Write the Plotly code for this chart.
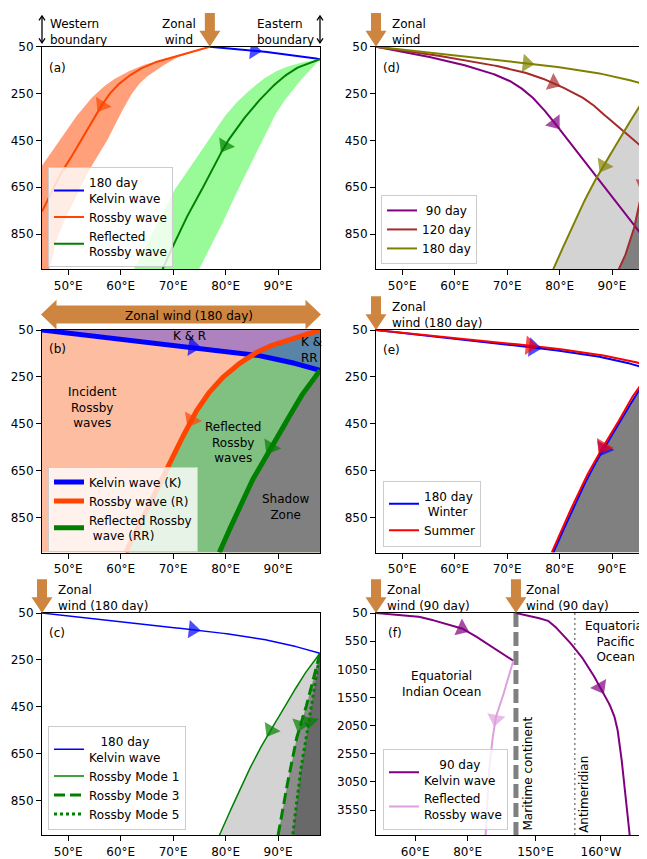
import numpy as np
import plotly.graph_objects as go

FONT = "DejaVu Sans"
W, H = 647, 859          # browser window
OFF = 8                  # page body margin
WF, HF = W - OFF, H - OFF  # figure size so that it ends exactly at the window edge

# ---------------- data ----------------
LON_TICKS = [50, 60, 70, 80, 90]
LON_TICK_LABELS = ["50°E", "60°E", "70°E", "80°E", "90°E"]
T_TICKS = [50, 250, 450, 650, 850]
T_TICKS_F = [50, 550, 1050, 1550, 2050, 2550, 3050, 3550]

# panel (a)
WIND_LON_A = 77
KELVIN_A_LON = [77, 82, 87, 92, 98]
KELVIN_A_T = [50, 59, 70, 84, 103]
ROSSBY_A_LON = [77, 71.3, 66.2, 62.4, 59.2, 56.7, 54.2, 51.6, 49.1, 47.8, 45.0]
ROSSBY_A_T = [50, 85, 120, 163, 219, 289, 388, 486, 571, 627, 754]
ROSSBY_A_LO_LON = [77, 70.0, 63.7, 58.6, 54.8, 51.6, 48.4, 45.9, 44.0]
ROSSBY_A_LO_T = [50, 92, 134, 191, 261, 346, 444, 528, 590]
ROSSBY_A_HI_LON = [77, 71.3, 66.9, 63.7, 61.1, 58.6, 56.1, 53.5, 48.4, 46.5, 45.8]
ROSSBY_A_HI_T = [50, 91, 148, 205, 289, 402, 501, 599, 838, 993, 1030]
RR_A_LON = [98, 94.2, 90.4, 86.6, 83.4, 79.9, 77.0, 73.8, 70.7, 68.0]
RR_A_T = [103, 134, 191, 275, 360, 472, 599, 726, 866, 1000]
RR_A_LO_LON = [98, 92.9, 88.5, 84.0, 80.2, 76.4, 72.6, 69.4, 62.4]
RR_A_LO_T = [103, 127, 169, 247, 337, 458, 585, 697, 1005]
RR_A_HI_LON = [98, 96.1, 92.9, 89.7, 86.6, 83.4, 80.2, 77.0, 74.5]
RR_A_HI_T = [103, 148, 232, 332, 472, 612, 767, 908, 1020]

# 180-day Kelvin wave and its reflected Rossby wave (panels b, c, d, e)
K180_LON = [45, 55, 65, 75, 85, 91, 95, 98]
K180_T = [50, 76, 101, 124, 154, 180, 203, 222]
RR180_LON = [98, 96.6, 94.2, 91.6, 88.6, 85.6, 82.4, 78.8]
RR180_T = [222, 262, 340, 440, 550, 670, 820, 1000]
# panel (b) Rossby wave
R_B_LON = [98, 92.9, 88.5, 85.3, 82.1, 79.8, 77.3, 75.3, 73.5, 70.6, 67.5, 64.3, 61.0]
R_B_T = [50, 89, 118, 153, 202, 245, 305, 365, 434, 561, 703, 842, 1000]
# panel (c) higher Rossby modes
MODE3_LON = [98, 97.0, 95.5, 93.9, 92.3, 91.0, 90.0]
MODE3_T = [222, 312, 439, 552, 721, 874, 1000]
MODE5_LON = [98, 97.0, 96.1, 94.8, 93.9, 92.8]
MODE5_T = [222, 367, 494, 652, 793, 1000]
# panel (d)
K90_LON = [45, 50, 55, 60, 64.8, 68, 71.2, 74.5, 77.5, 80.7, 83.9, 90.2, 96.6, 98]
K90_T = [50, 70, 93, 118, 148, 172, 205, 260, 332, 422, 515, 697, 881, 921]
K120_LON = [45, 50, 55, 60, 64.8, 71.2, 75, 78.8, 83.9, 87, 90.2, 96.6, 98]
K120_T = [50, 65, 82, 100, 118, 148, 172, 205, 261, 310, 374, 493, 522]
RR120_LON = [98, 97.0, 96.0, 94.7, 92.8, 91.3]
RR120_T = [522, 581, 641, 782, 923, 1000]
# panel (e) summer
KSUM_LON = [45, 55, 65, 75, 85, 91, 95, 98]
KSUM_T = [50, 74, 97, 118, 146, 170, 190, 208]
RRSUM_LON = [98, 96.4, 93.9, 91.3, 88.3, 85.3, 82.1, 78.5]
RRSUM_T = [208, 255, 335, 437, 548, 668, 818, 1000]
# panel (f): Indian Ocean part in degrees, Pacific part compressed
MC_X = 98.5
PAC_LON0 = 135
PAC_SCALE = 0.5
ANTIMERIDIAN_LON = 180
F_TICK_IND = [60, 80]
F_TICK_PAC = [150, 200]
F_TICK_LABELS = ["60°E", "80°E", "150°E", "160°W"]
KF_IND_X = [45, 52, 61.8, 70, 77.8, 87.3, 97.5]
KF_IND_T = [50, 73, 120, 220, 325, 588, 897]
RRF_IND_X = [97.5, 95, 92.4, 90.6, 88.6, 87.7, 86.9]
RRF_IND_T = [897, 1318, 1669, 1960, 2664, 3300, 4000]
KF_PAC_LON = [135, 145, 155, 160, 168.8, 184, 196.8, 209.6, 214.6, 218.4, 222]
KF_PAC_T = [50, 108, 155, 196, 383, 792, 1260, 1845, 2430, 3248, 4000]

# ---------------- layout geometry (window pixels) ----------------
BOX = {  # left, right, top, bottom
    'a': (42, 320, 40, 264.3), 'b': (42, 320, 325.7, 550), 'c': (42, 320, 611, 835.3),
    'd': (376, 647, 40, 264.3), 'e': (376, 647, 325.7, 550), 'f': (376, 647, 611, 835.3)}
XR = {'a': [45, 98], 'b': [45, 98], 'c': [45, 98], 'd': [45, 96.67], 'e': [45, 96.67], 'f': [45, 148.6]}
YMAX = {'a': 1000, 'b': 1000, 'c': 1000, 'd': 1000, 'e': 1000, 'f': 4000}
IDX = {'a': 1, 'b': 2, 'c': 3, 'd': 4, 'e': 5, 'f': 6}
LEG = {p: ('legend' if n == 1 else f'legend{n}') for p, n in IDX.items()}
AX = {p: (('x', 'y') if n == 1 else (f'x{n}', f'y{n}')) for p, n in IDX.items()}


def PX(px):
    return (px - OFF) / WF


def PY(py):
    return 1 - (py - OFF) / HF


def pac(lons):
    return [MC_X + (l - PAC_LON0) * PAC_SCALE for l in lons]


def dx(p, x):
    l, r = BOX[p][0], BOX[p][1]
    return l + (x - XR[p][0]) / (XR[p][1] - XR[p][0]) * (r - l)


def cr(xs, ys, n=16):
    P = np.column_stack([xs, ys]).astype(float)
    P = np.vstack([2 * P[0] - P[1], P, 2 * P[-1] - P[-2]])
    t = np.linspace(0, 1, n, endpoint=False)[:, None]
    segs = []
    for i in range(1, len(P) - 2):
        p0, p1, p2, p3 = P[i - 1], P[i], P[i + 1], P[i + 2]
        segs.append(0.5 * ((2 * p1) + (-p0 + p2) * t + (2 * p0 - 5 * p1 + 4 * p2 - p3) * t ** 2
                           + (-p0 + 3 * p1 - 3 * p2 + p3) * t ** 3))
    segs.append(P[-2][None, :])
    A = np.vstack(segs)
    return A[:, 0].tolist(), A[:, 1].tolist()


traces = []
ARW = 16


def add_line(p, xs, ys, color, width, name=None, dash=None, smooth=True):
    xa, ya = AX[p]
    if smooth:
        xs, ys = cr(xs, ys)
    traces.append(go.Scatter(x=xs, y=ys, mode='lines', line=dict(color=color, width=width, dash=dash),
                             xaxis=xa, yaxis=ya, name=name or '', showlegend=name is not None,
                             legend=LEG[p], hoverinfo='skip'))
    return xs, ys


def add_fill(p, xs, ys, color):
    xa, ya = AX[p]
    traces.append(go.Scatter(x=xs, y=ys, mode='lines', fill='toself', fillcolor=color,
                             line=dict(width=0, color=color), xaxis=xa, yaxis=ya,
                             showlegend=False, hoverinfo='skip'))


def add_arrow(p, xd, yd, key, val, color, size=ARW):
    xa, ya = AX[p]
    arr = np.array(xd if key == 'x' else yd)
    i = max(int(np.argmin(np.abs(arr - val))), 1)
    traces.append(go.Scatter(x=[xd[i - 1], xd[i]], y=[yd[i - 1], yd[i]], mode='markers',
                             marker=dict(symbol='triangle-up', size=[0, size], color=color,
                                         angleref='previous', line=dict(width=0)),
                             xaxis=xa, yaxis=ya, showlegend=False, hoverinfo='skip'))


def region_right(p, xd, yd):
    xmax, ymax = XR['a'][1], YMAX[p]
    return list(xd) + [xmax, xmax], list(yd) + [ymax, yd[0]]


# ---------- panel (a) ----------
hx, hy = cr(ROSSBY_A_HI_LON, ROSSBY_A_HI_T)
lx, ly = cr(ROSSBY_A_LO_LON, ROSSBY_A_LO_T)
add_fill('a', hx + [lx[-1]] + lx[::-1], hy + [hy[-1]] + ly[::-1], '#ffa07a')
hx, hy = cr(RR_A_HI_LON, RR_A_HI_T)
lx, ly = cr(RR_A_LO_LON, RR_A_LO_T)
add_fill('a', hx + [lx[-1]] + lx[::-1], hy + [hy[-1]] + ly[::-1], '#98fb98')
kx, ky = add_line('a', KELVIN_A_LON, KELVIN_A_T, 'blue', 2, '180 day<br>Kelvin wave')
rx, ry = add_line('a', ROSSBY_A_LON, ROSSBY_A_T, '#ff4500', 2, 'Rossby wave')
gx, gy = add_line('a', RR_A_LON, RR_A_T, 'green', 2, 'Reflected<br>Rossby wave')
add_arrow('a', kx, ky, 'x', 85.5, 'blue')
add_arrow('a', rx, ry, 'x', 56.4, '#ff4500')
add_arrow('a', gx, gy, 'x', 79.9, 'green')

# ---------- panel (b) ----------
xr_b, ym_b = XR['b'], YMAX['b']
add_fill('b', [xr_b[0], xr_b[1], xr_b[1], xr_b[0]], [50, 50, ym_b, ym_b], 'rgb(252,189,161)')
ox, oy = cr(R_B_LON, R_B_T)
fx, fy = region_right('b', ox, oy)
add_fill('b', fx, fy, 'rgb(128,192,128)')
gx, gy = cr(RR180_LON, RR180_T)
fx, fy = region_right('b', gx, gy)
add_fill('b', fx, fy, 'rgb(128,128,128)')
kx, ky = cr(K180_LON, K180_T)
add_fill('b', kx + [xr_b[1]], ky + [50], 'rgba(0,0,255,0.31)')
add_line('b', kx, ky, 'blue', 5, 'Kelvin wave (K)', smooth=False)
add_line('b', ox, oy, '#ff4500', 5, 'Rossby wave (R)', smooth=False)
add_line('b', gx, gy, 'green', 5, 'Reflected Rossby<br> wave (RR)', smooth=False)
add_arrow('b', kx, ky, 'x', 74, 'blue', 17)
add_arrow('b', ox, oy, 't', 434, '#ff4500', 17)
add_arrow('b', gx, gy, 't', 547, 'green', 17)

# ---------- panel (c) ----------
m1x, m1y = cr(RR180_LON, RR180_T)
m3x, m3y = cr(MODE3_LON, MODE3_T)
m5x, m5y = cr(MODE5_LON, MODE5_T)
for (xx, yy, col) in [(m1x, m1y, '#d3d3d3'), (m3x, m3y, '#8c8c8c'), (m5x, m5y, '#696969')]:
    fx, fy = region_right('c', xx, yy)
    add_fill('c', fx, fy, col)
kx, ky = add_line('c', K180_LON, K180_T, 'blue', 1.5, '\u00a0\u00a0\u00a0180 day<br>Kelvin wave')
add_line('c', m1x, m1y, 'green', 1.5, 'Rossby Mode 1', smooth=False)
add_line('c', m3x, m3y, 'green', 3, 'Rossby Mode 3', dash='11px,5px', smooth=False)
add_line('c', m5x, m5y, 'green', 3, 'Rossby Mode 5', dash='3px,3px', smooth=False)
add_arrow('c', kx, ky, 'x', 74, 'blue')
add_arrow('c', m1x, m1y, 't', 552, 'green')
add_arrow('c', m3x, m3y, 't', 531, 'green')
add_arrow('c', m5x, m5y, 't', 510, 'green')

# ---------- panel (d) ----------
ox_, oy_ = cr(RR180_LON, RR180_T)
bx_, by_ = cr(RR120_LON, RR120_T)
fx, fy = region_right('d', ox_, oy_)
add_fill('d', fx, fy, '#d3d3d3')
fx, fy = region_right('d', bx_, by_)
add_fill('d', fx, fy, '#808080')
px_, py_ = add_line('d', K90_LON, K90_T, 'purple', 2, '\u00a090 day')
bkx, bky = add_line('d', K120_LON, K120_T, 'brown', 2, '120 day')
okx, oky = add_line('d', K180_LON, K180_T, 'olive', 2, '180 day')
add_line('d', ox_, oy_, 'olive', 2, smooth=False)
add_line('d', bx_, by_, 'brown', 2, smooth=False)
add_arrow('d', px_, py_, 'x', 79.1, 'purple')
add_arrow('d', bkx, bky, 'x', 78.8, 'brown')
add_arrow('d', okx, oky, 'x', 73.7, 'olive')
add_arrow('d', ox_, oy_, 't', 557, 'olive')
add_arrow('d', bx_, by_, 't', 641, 'brown')

# ---------- panel (e) ----------
wx, wy = cr(RR180_LON, RR180_T)
fx, fy = region_right('e', wx, wy)
add_fill('e', fx, fy, '#808080')
wkx, wky = add_line('e', K180_LON, K180_T, 'blue', 2, '180 day<br>\u00a0Winter')
skx, sky = add_line('e', KSUM_LON, KSUM_T, 'red', 2, 'Summer')
add_line('e', wx, wy, 'blue', 2, smooth=False)
srx, sry = add_line('e', RRSUM_LON, RRSUM_T, 'red', 2, smooth=False)
add_arrow('e', wkx, wky, 'x', 75.3, 'blue', 17)
add_arrow('e', wx, wy, 't', 554, 'blue', 17)
add_arrow('e', skx, sky, 'x', 74.4, 'red', 17)
add_arrow('e', srx, sry, 't', 540, 'red', 17)

# ---------- panel (f) ----------
xa6, ya6 = AX['f']
traces.append(go.Scatter(x=[MC_X, MC_X], y=[50, YMAX['f']], mode='lines',
                         line=dict(color='gray', width=5, dash='14px,5px'), xaxis=xa6, yaxis=ya6,
                         showlegend=False, hoverinfo='skip'))
am = pac([ANTIMERIDIAN_LON])[0]
traces.append(go.Scatter(x=[am, am], y=[50, YMAX['f']], mode='lines',
                         line=dict(color='gray', width=1.5, dash='2px,3px'), xaxis=xa6, yaxis=ya6,
                         showlegend=False, hoverinfo='skip'))
fkx, fky = add_line('f', KF_IND_X, KF_IND_T, 'purple', 2, '\u00a0\u00a0\u00a0\u00a090 day<br>Kelvin wave')
frx, fry = add_line('f', RRF_IND_X, RRF_IND_T, 'plum', 2, 'Reflected<br>Rossby wave')
fpx, fpy = add_line('f', pac(KF_PAC_LON), KF_PAC_T, 'purple', 2)
add_arrow('f', fkx, fky, 'x', 77.8, 'purple')
add_arrow('f', frx, fry, 't', 1932, 'plum')
add_arrow('f', fpx, fpy, 't', 1348, 'purple')

fig = go.Figure(traces)

# ---------------- axes ----------------
layout = {}
for p, n in IDX.items():
    l, r, t, b = BOX[p]
    sx = '' if n == 1 else str(n)
    if p == 'f':
        tv = F_TICK_IND + pac(F_TICK_PAC)
        tt = F_TICK_LABELS
        yv = T_TICKS_F
    else:
        tv, tt, yv = LON_TICKS, LON_TICK_LABELS, T_TICKS
    common = dict(ticks='outside', ticklen=5, tickwidth=1, tickcolor='black', showline=True,
                  linecolor='black', linewidth=1, showgrid=False, zeroline=False,
                  tickfont=dict(family=FONT, size=12, color='black'))
    layout['xaxis' + sx] = dict(domain=[PX(l), min(PX(r), 1.0)], range=XR[p], anchor='y' + sx,
                                tickvals=tv, ticktext=tt, mirror=True, **common)
    layout['yaxis' + sx] = dict(domain=[PY(b), PY(t)], range=[YMAX[p], 50], anchor='x' + sx,
                                tickvals=yv, ticktext=[str(v) for v in yv],
                                mirror=(p in 'abc'), **common)

LEG_POS = {'a': (48, 262.5), 'b': (48, 549), 'c': (48, 830), 'd': (381, 259), 'e': (383, 544), 'f': (383, 830)}
for p, (lx0, by0) in LEG_POS.items():
    layout[LEG[p]] = dict(x=PX(lx0), y=PY(by0), xanchor='left', yanchor='bottom',
                          bgcolor='rgba(255,255,255,0.8)', bordercolor='#cccccc', borderwidth=1,
                          font=dict(family=FONT, size=12, color='black'), tracegroupgap=0,
                          itemwidth=30, traceorder='normal')

# ---------------- shapes ----------------
shapes = []
PERU = '#cd853f'


def add_path(pts, fill=None, line_color=None, width=0, closed=True):
    s = ''
    for k, (px, py) in enumerate(pts):
        s += ('M' if k == 0 else 'L') + f'{PX(px):.5f},{PY(py):.5f} '
    if closed:
        s += 'Z'
    shapes.append(dict(type='path', path=s, xref='paper', yref='paper',
                       fillcolor=fill or 'rgba(0,0,0,0)',
                       line=dict(color=line_color or 'rgba(0,0,0,0)', width=width), layer='above'))


def wind_down(px, ptip):
    sw, hw, hl, tot = 5, 10.5, 16, 34
    add_path([(px - sw, ptip - tot), (px + sw, ptip - tot), (px + sw, ptip - hl), (px + hw, ptip - hl),
              (px, ptip), (px - hw, ptip - hl), (px - sw, ptip - hl)], fill=PERU)


def wind_double(x0, x1, yc):
    sh, hh, hl = 9, 15, 15.5
    add_path([(x0, yc), (x0 + hl, yc - hh), (x0 + hl, yc - sh), (x1 - hl, yc - sh), (x1 - hl, yc - hh),
              (x1, yc), (x1 - hl, yc + hh), (x1 - hl, yc + sh), (x0 + hl, yc + sh), (x0 + hl, yc + hh)],
             fill=PERU)


def boundary(px, y0, y1):
    add_path([(px, y0), (px, y1)], line_color='black', width=1.3, closed=False)
    add_path([(px - 3, y0 + 4.5), (px, y0), (px + 3, y0 + 4.5)], line_color='black', width=1.3, closed=False)
    add_path([(px - 3, y1 - 4.5), (px, y1), (px + 3, y1 - 4.5)], line_color='black', width=1.3, closed=False)


wind_down(dx('a', WIND_LON_A), BOX['a'][2])
boundary(dx('a', XR['a'][0]), 9, 36)
boundary(dx('a', XR['a'][1]), 9, 36)
wind_double(dx('b', XR['b'][0]) - 1, dx('b', XR['b'][1]) + 1, 310)
wind_down(dx('c', XR['c'][0]), BOX['c'][2])
wind_down(dx('d', XR['d'][0]), BOX['d'][2])
wind_down(dx('e', XR['e'][0]), BOX['e'][2])
wind_down(dx('f', XR['f'][0]), BOX['f'][2])
wind_down(dx('f', MC_X), BOX['f'][2])

# ---------------- annotations ----------------
anns = []


def text(px, py, s, xanchor='center', align='center', angle=0):
    anns.append(dict(x=PX(px), y=PY(py), xref='paper', yref='paper', text=s, showarrow=False,
                     xanchor=xanchor, yanchor='middle', align=align, textangle=angle,
                     font=dict(family=FONT, size=12, color='black')))


text(48, 25, 'Western<br>boundary', 'left', 'left')
text(179, 25, 'Zonal<br>wind')
text(255, 25, 'Eastern<br>boundary', 'left', 'left')
text(47, 61, '(a)', 'left')
text(189, 311, 'Zonal wind (180 day)')
text(47, 345, '(b)', 'left')
text(189, 331.5, 'K &amp; R')
text(299, 345.5, 'K &amp;<br>RR', 'left', 'left')
text(92.5, 403.3, 'Incident<br>Rossby<br>waves')
text(233.3, 439, 'Reflected<br>Rossby<br>waves')
text(286.3, 504.5, 'Shadow<br>Zone')
text(56, 596, 'Zonal<br>wind (180 day)', 'left', 'left')
text(47, 631, '(c)', 'left')
text(390, 25, 'Zonal<br>wind', 'left', 'left')
text(381, 61, '(d)', 'left')
text(390, 310.7, 'Zonal<br>wind (180 day)', 'left', 'left')
text(381, 346, '(e)', 'left')
text(385, 596, 'Zonal<br>wind (90 day)', 'left', 'left')
text(523.5, 596, 'Zonal<br>wind (90 day)', 'left', 'left')
text(386, 631, '(f)', 'left')
text(441.7, 682.7, 'Equatorial<br>Indian Ocean')
text(615, 639.3, 'Equatorial<br>Pacific<br>Ocean')
text(528.3, 772.5, 'Maritime continent', angle=-90)
text(583.3, 794, 'Antimeridian', angle=-90)

fig.update_layout(**layout)
fig.update_layout(width=WF, height=HF, margin=dict(l=0, r=0, t=0, b=0), paper_bgcolor='white',
                  plot_bgcolor='white', font=dict(family=FONT, size=12, color='black'),
                  shapes=shapes, annotations=anns, hovermode=False)
fig.write_html("out.html")
